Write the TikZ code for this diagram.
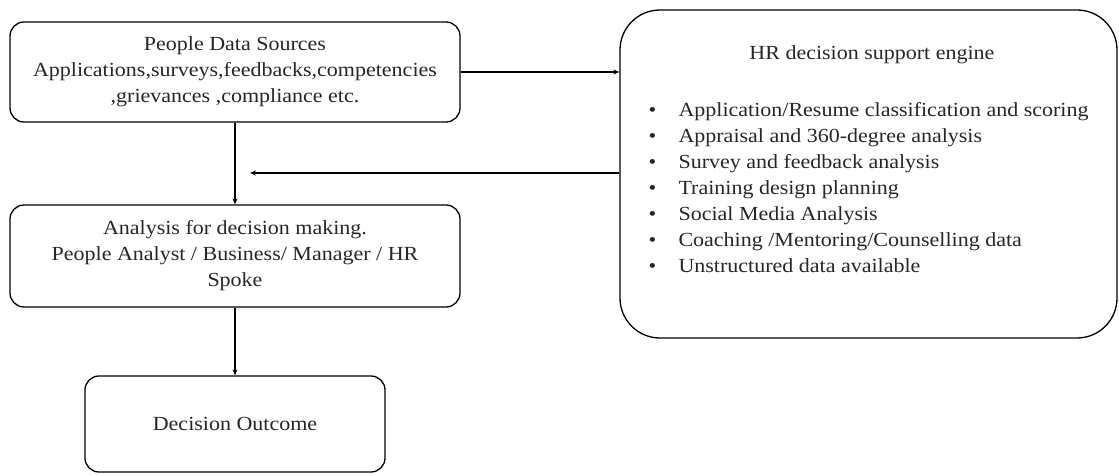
\documentclass[tikz,border=0pt]{standalone}
\usepackage{fontspec}
\setmainfont{Liberation Serif}[FakeStretch=1.1]
\usetikzlibrary{arrows.meta}
\begin{document}
\begin{tikzpicture}[x=1pt,y=-1pt,
  box/.style={draw, line width=1.3pt, rounded corners=14pt, align=center, inner sep=0pt},
  bigbox/.style={draw, line width=1.3pt, rounded corners=40pt, inner sep=0pt},
  txt/.style={font=\fontsize{20}{26}\selectfont, text=black!85},
  conn/.style={line width=1.3pt, -{Stealth[length=6pt,width=5pt]}}]
\useasboundingbox (0,0) rectangle (1119,476);
\node[box, txt, minimum width=450pt, minimum height=100pt] (src) at (235,72)
  {People Data Sources\\Applications,surveys,feedbacks,competencies\\,grievances ,compliance etc.};
\node[box, txt, minimum width=450pt, minimum height=102pt] (ana) at (235,256)
  {Analysis for decision making.\\People Analyst / Business/ Manager / HR\\Spoke};
\node[box, txt, minimum width=300pt, minimum height=96pt] (out) at (235,424)
  {Decision Outcome};
\node[bigbox, minimum width=497pt, minimum height=328pt] (eng) at (868.5,174) {};
\node[txt] (title) at (872,55) {HR decision support engine};
\node[txt, align=left, anchor=north west] (list) at (645,99)
  {\makebox[30pt][l]{•}Application/Resume classification and scoring\\
   \makebox[30pt][l]{•}Appraisal and 360-degree analysis\\
   \makebox[30pt][l]{•}Survey and feedback analysis\\
   \makebox[30pt][l]{•}Training design planning\\
   \makebox[30pt][l]{•}Social Media Analysis\\
   \makebox[30pt][l]{•}Coaching /Mentoring/Counselling data\\
   \makebox[30pt][l]{•}Unstructured data available};
\coordinate (ret) at (250,173);
\draw[conn] (src.east) -- (eng.west |- src.east);
\draw[conn] (src.south) -- (ana.north);
\draw[conn] (eng.west |- ret) -- (ret);
\draw[conn] (ana.south) -- (out.north);
\end{tikzpicture}
\end{document}
